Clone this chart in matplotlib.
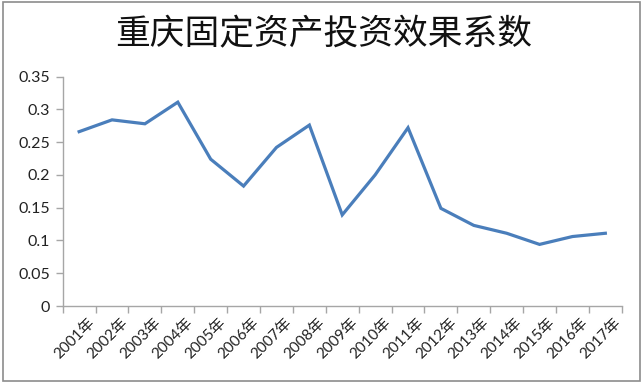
import numpy as np
import matplotlib
matplotlib.use('Agg')
import matplotlib.pyplot as plt
import matplotlib.transforms as mtransforms
from matplotlib.patches import Rectangle

# data
years = ['2001年', '2002年', '2003年', '2004年', '2005年', '2006年', '2007年', '2008年', '2009年',
         '2010年', '2011年', '2012年', '2013年', '2014年', '2015年', '2016年', '2017年']
values = [0.266, 0.284, 0.278, 0.311, 0.224, 0.183, 0.242, 0.276, 0.139,
          0.200, 0.272, 0.149, 0.123, 0.111, 0.094, 0.106, 0.111]
yticks = [0, 0.05, 0.1, 0.15, 0.2, 0.25, 0.3, 0.35]
ytick_labels = ['0', '0.05', '0.1', '0.15', '0.2', '0.25', '0.3', '0.35']

plt.rcParams['font.family'] = ['Lato', 'Noto Sans CJK SC', 'DejaVu Sans']

fig = plt.figure(figsize=(6.43, 3.83), dpi=100)
ax = fig.add_axes([0.0975, 0.201, 0.8695, 0.599])

x = np.arange(len(years))
ax.plot(x, values, color='#4a7ebb', lw=2.3, solid_joinstyle='miter')

ax.set_xlim(-0.5, len(years) - 0.5)
ax.set_ylim(0, 0.35)
ax.set_yticks(yticks)
ax.set_yticklabels(ytick_labels)

# category labels centred, tick marks between categories
ax.set_xticks(x)
ax.set_xticklabels(years, rotation=45, ha='right', va='top', rotation_mode='anchor')
ax.set_xticks(np.arange(-0.5, len(years)), minor=True)
ax.tick_params(axis='x', which='major', length=0, pad=7, labelsize=11, labelcolor='#222222')
ax.tick_params(axis='x', which='minor', length=5, width=1, color='#a6a6a6', direction='out')
ax.tick_params(axis='y', length=5, width=1, color='#a6a6a6', labelsize=11.5, labelcolor='#222222', pad=4)
shift = mtransforms.ScaledTranslation(6 / 72, 0, fig.dpi_scale_trans)
for lab in ax.get_xticklabels():
    lab.set_transform(lab.get_transform() + shift)

for s in ['top', 'right']:
    ax.spines[s].set_visible(False)
for s in ['left', 'bottom']:
    ax.spines[s].set_color('#a6a6a6')
    ax.spines[s].set_linewidth(1)

fig.text(0.503, 0.908, '重庆固定资产投资效果系数', ha='center', va='center',
         fontsize=25, family=['Noto Sans CJK SC'], color='#111111')

fig.patches.append(Rectangle((0.004, 0.004), 0.992, 0.992, transform=fig.transFigure,
                             fill=False, edgecolor='#8c8c8c', lw=1.2))

fig.savefig('out.png', dpi=100)
